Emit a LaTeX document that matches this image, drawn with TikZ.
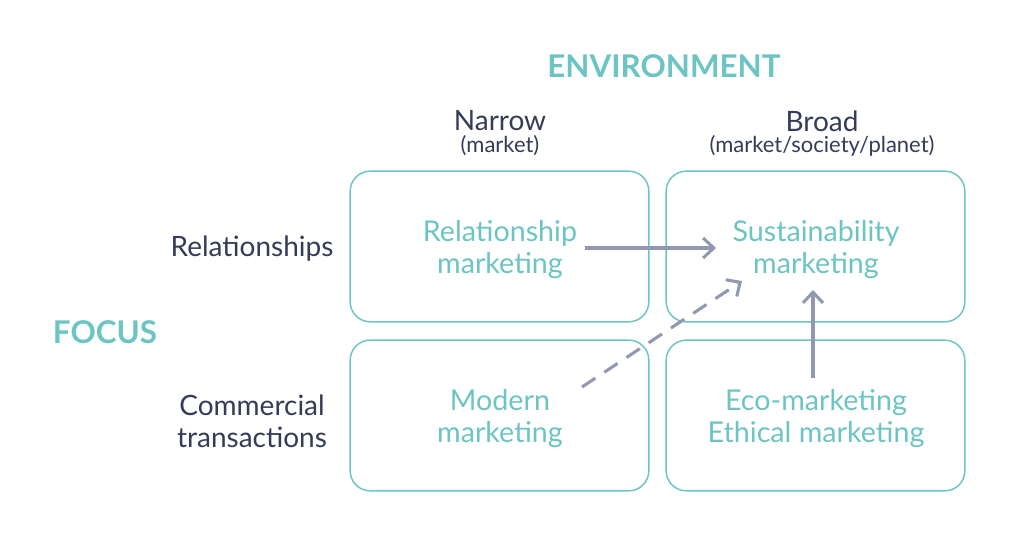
\documentclass[tikz,border=0pt]{standalone}
\usepackage{fontspec}
\setmainfont{Lato}
\usetikzlibrary{arrows.meta}
\definecolor{teal1}{HTML}{6CC5C3}
\definecolor{navy1}{HTML}{363B58}
\definecolor{arrowc}{HTML}{9298B2}
\tikzset{
  cell/.style={draw=teal1, line width=1.1pt, rounded corners=15pt, minimum width=224pt, minimum height=113pt, inner sep=0pt},
  celltext/.style={text=teal1, font=\fontsize{21.5}{24}\selectfont, align=center},
  head/.style={text=navy1, font=\fontsize{21}{24}\selectfont, align=center},
  sub/.style={text=navy1, font=\fontsize{16.5}{19}\selectfont},
  axis/.style={text=teal1, font=\fontsize{23.5}{28}\selectfont\bfseries},
  conn/.style={draw=arrowc, line width=2.3pt, -{Straight Barb[length=8pt,width=15pt,line width=2.3pt]}},
}
\begin{document}
\begin{tikzpicture}[x=0.75pt,y=-0.75pt]
\useasboundingbox[fill=white] (0,0) rectangle (1024,548);
\node[cell] (tl) at (499.5,246.5) {};
\node[cell] (tr) at (815.5,246.5) {};
\node[cell] (bl) at (499.5,415.5) {};
\node[cell] (br) at (815.5,415.5) {};
\node[axis] (env) at (664,66) {ENVIRONMENT};
\node[axis] (focus) at (105,332) {FOCUS};
\node[head] (narrow) at (500,121) {Narrow};
\node[sub] (narrowsub) at (500,146) {(market)};
\node[head] (broad) at (822,121) {Broad};
\node[sub] (broadsub) at (822,146) {(market/society/planet)};
\node[head] (rel) at (252,249) {Relationships};
\node[head] (com) at (252,421) {Commercial\\transactions};
\node[celltext] (rm) at (500,250) {Relationship\\marketing};
\node[celltext] (sm) at (816,250) {Sustainability\\marketing};
\node[celltext] (mm) at (500,419) {Modern\\marketing};
\node[celltext] (em) at (816,419) {Eco-marketing\\Ethical marketing};
\coordinate (a1s) at (585,248);
\coordinate (a1e) at (716,248);
\coordinate (a2s) at (582,387);
\coordinate (a2e) at (742,281);
\coordinate (a3s) at (813,378);
\coordinate (a3e) at (813,290);
\draw[conn] (a1s) -- (a1e);
\draw[conn, dash pattern=on 12pt off 8pt] (a2s) -- (a2e);
\draw[conn] (a3s) -- (a3e);
\end{tikzpicture}
\end{document}
